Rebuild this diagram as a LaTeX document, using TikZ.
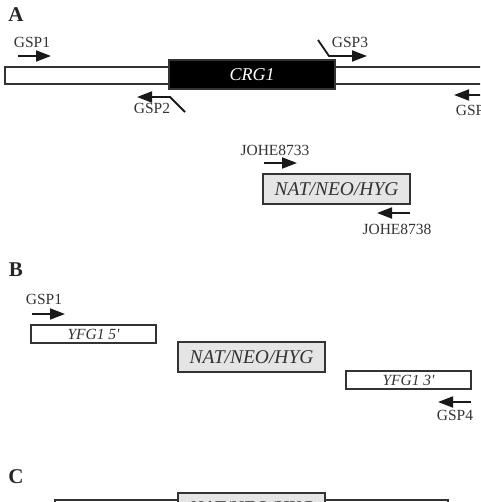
\documentclass[tikz,border=0pt]{standalone}
\usepackage{fontspec}
\setmainfont{Liberation Serif}
\usetikzlibrary{arrows.meta,positioning}

\tikzset{
    panel/.style={font=\fontsize{21}{21}\selectfont\bfseries, text=black!85},
    primer/.style={font=\fontsize{15.5}{16}\selectfont, text=black!80, inner sep=0pt},
    prim/.style={-{Triangle[length=15pt,width=11pt]}, line width=1.8pt, black!90},
    segbox/.style={draw=black!80, line width=1.1pt, fill=white, inner sep=0pt, outer sep=0pt, anchor=north west,
        font=\fontsize{15.5}{16}\selectfont\itshape, text=black!80},
    markerbox/.style={segbox, fill=gray!20, minimum width=147pt, minimum height=30pt,
        font=\fontsize{19.5}{20}\selectfont\itshape},
}

\begin{document}
\begin{tikzpicture}[x=1pt, y=-1pt]
    \clip (0,0) rectangle (480,502);

    % A: genomic locus
    \node[panel] (labA) at (16,15) {A};
    \node[segbox, minimum width=490pt, minimum height=17pt] (locus) at (5,67) {};
    \node[segbox, fill=black, minimum width=166pt, minimum height=29pt,
        font=\fontsize{18}{18}\selectfont\itshape, text=white] (crg) at (169,60) {CRG1};

    \coordinate (p1s) at (18,56);   \coordinate (p1e) at (51,56);
    \coordinate (p2s) at (185,112); \coordinate (p2k) at (170,97); \coordinate (p2e) at (137,97);
    \coordinate (p3s) at (318,40);  \coordinate (p3k) at (329,56); \coordinate (p3e) at (367,56);
    \coordinate (p4s) at (492,95);  \coordinate (p4e) at (454,95);
    \draw[prim] (p1s) -- (p1e);
    \draw[prim] (p2s) -- (p2k) -- (p2e);
    \draw[prim] (p3s) -- (p3k) -- (p3e);
    \draw[prim] (p4s) -- (p4e);
    \node[primer] (gspA1) at (32,42) {GSP1};
    \node[primer] (gspA2) at (152,108) {GSP2};
    \node[primer] (gspA3) at (350,42) {GSP3};
    \node[primer] (gspA4) at (474,110) {GSP4};

    % A: marker cassette
    \node[markerbox] (natA) at (263,174) {NAT/NEO/HYG};
    \coordinate (j1s) at (264,163); \coordinate (j1e) at (297,163);
    \coordinate (j2s) at (410,213); \coordinate (j2e) at (377,213);
    \draw[prim] (j1s) -- (j1e);
    \draw[prim] (j2s) -- (j2e);
    \node[primer] (joheF) at (275,150) {JOHE8733};
    \node[primer] (joheR) at (397,229) {JOHE8738};

    % B: fragments
    \node[panel] (labB) at (16,270) {B};
    \node[segbox, minimum width=125pt, minimum height=18pt] (five) at (31,325) {YFG1 5\textquotesingle};
    \node[markerbox] (natB) at (178,342) {NAT/NEO/HYG};
    \node[segbox, minimum width=125pt, minimum height=18pt] (three) at (346,371) {YFG1 3\textquotesingle};
    \coordinate (b1s) at (32,314);  \coordinate (b1e) at (65,314);
    \coordinate (b4s) at (471,402); \coordinate (b4e) at (438,402);
    \draw[prim] (b1s) -- (b1e);
    \draw[prim] (b4s) -- (b4e);
    \node[primer] (gspB1) at (44,299) {GSP1};
    \node[primer] (gspB4) at (455,415) {GSP4};

    % C: fusion product
    \node[panel] (labC) at (16,477) {C};
    \node[segbox, minimum width=393pt, minimum height=18pt] (fused) at (55,500) {};
    \node[markerbox] (natC) at (178,493) {NAT/NEO/HYG};
\end{tikzpicture}
\end{document}
